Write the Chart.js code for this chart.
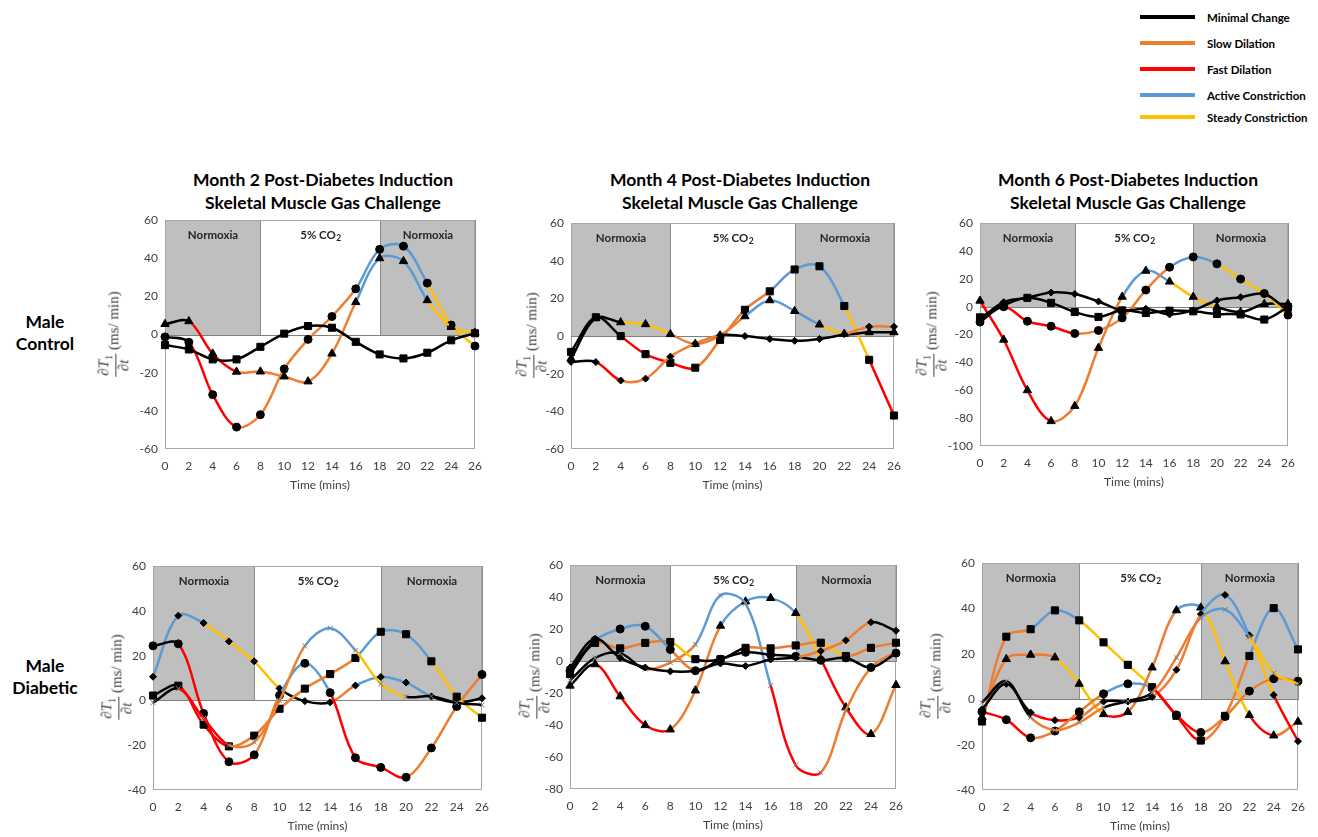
<!DOCTYPE html>
<html>
<head>
<meta charset="utf-8">
<script src="https://cdn.jsdelivr.net/npm/chart.js@4.4.1/dist/chart.umd.min.js"></script>
<style>
  body { margin: 0; background: #fff; width: 1318px; height: 837px; position: relative; overflow: hidden;
         font-family: Lato, "Open Sans", sans-serif; color: #000; }
  canvas { position: absolute; }
  .title { position: absolute; transform: translateX(-50%); text-align: center; font-weight: bold;
           font-size: 17.5px; line-height: 23px; white-space: nowrap; }
  .row { position: absolute; transform: translate(-50%, -50%); text-align: center; font-weight: bold;
         font-size: 17.5px; line-height: 22px; white-space: nowrap; }
  .xlab { position: absolute; transform: translate(-50%, -50%); font-size: 12px; color: #404040; white-space: nowrap; }
  .ylab { position: absolute; transform: translate(-50%, -50%) rotate(-90deg); font-family: "Liberation Serif", "DejaVu Serif", serif;
          font-size: 15px; color: #404040; white-space: nowrap; display: flex; align-items: center; }
  .frac { display: inline-flex; flex-direction: column; align-items: center; margin-right: 4px; line-height: 1.05; }
  .frac .num { border-bottom: 1px solid #404040; padding: 0 1px; }
  .leg { position: absolute; left: 1140px; height: 12px; display: flex; align-items: center; transform: translateY(-50%); }
  .leg .ln { width: 55px; height: 4px; margin-right: 12px; }
  .leg span { font-weight: bold; font-size: 11.5px; white-space: nowrap; }
</style>
</head>
<body>
<script>
// ---- data ----
const times = [0, 2, 4, 6, 8, 10, 12, 14, 16, 18, 20, 22, 24, 26];
const phaseStart = [0, 8, 18];
const phaseEnd = [8, 18, 26];
const phaseNames = ['Normoxia', '5% CO₂', 'Normoxia'];
const responseNames = ['Minimal Change', 'Slow Dilation', 'Fast Dilation', 'Active Constriction', 'Steady Constriction'];
const responseCodes = ['K', 'O', 'R', 'B', 'Y'];
const panelTitles = ['Month 2 Post-Diabetes Induction', 'Month 4 Post-Diabetes Induction', 'Month 6 Post-Diabetes Induction'];
const panelSubtitle = 'Skeletal Muscle Gas Challenge';
const rowNames = [['Male', 'Control'], ['Male', 'Diabetic']];
const yMin = [-60, -60, -100, -40, -80, -40];
const yMax = [60, 60, 60, 60, 60, 60];

// each series: values at each time + response type of each segment (K O R B Y)
// Month 2, male control
const m2cCircle = [-1.2, -4, -31.5, -48.5, -42, -18, -2.5, 9.5, 24, 44.7, 46.4, 27, 5, -6];
const m2cCircleType = 'KRROOOOOBBBYY';
const m2cTriangle = [5.5, 7, -10, -19.5, -19.4, -22, -24.6, -10, 17, 40, 38.5, 18, 4, 1];
const m2cTriangleType = 'KRROOOOOBBBYY';
const m2cSquare = [-5.5, -7.8, -13, -13, -6.4, 0.5, 4.5, 3.6, -3.8, -10.4, -12.5, -9.5, -3, 0.7];
const m2cSquareType = 'KKKKKKKKKKKKK';

// Month 4, male control
const m4cSquare = [-8.4, 10, 0, -9.6, -14.2, -16.8, -2, 14, 23.8, 35.4, 37.1, 16, -12.6, -42.2];
const m4cSquareType = 'KKRRROOOBBBYR';
const m4cTriangle = [-12, 9.6, 7.3, 6.3, 1, -4.2, 0.3, 10.5, 19, 13.3, 6.1, 1.2, 2, 2];
const m4cTriangleType = 'KKYYOOOBBBYKK';
const m4cDiamond = [-13.7, -13.8, -23.6, -22.6, -10.9, -4, 0.5, 0, -1.5, -2.5, -1.5, 1, 5, 5];
const m4cDiamondType = 'KROOOOKKKKKOO';

// Month 6, male control
const m6cCircle = [-11, 0, -10.4, -14, -19.2, -17, -8, 12, 28.4, 35.8, 30.8, 19.9, 9.5, -6];
const m6cCircleType = 'KRRROOOOBBYYY';
const m6cTriangle = [4.3, -23.7, -60, -82.2, -71.3, -29.6, 7.1, 25.8, 18, 7.1, -0.2, -3.8, 1.9, 2];
const m6cTriangleType = 'RRROOOBBYYKKK';
const m6cSquare = [-7.6, 1, 6.4, 2.8, -3.8, -7.3, -2.6, -4.5, -2.8, -3.3, -5.2, -5.5, -9.2, -0.2];
const m6cSquareType = 'KKKKKKKKKKKKK';
const m6cDiamond = [-9, 3.3, 6.4, 10.2, 9.2, 3.8, -2.6, -1.4, -5.5, -2.6, 4.5, 6.9, 9.2, -3];
const m6cDiamondType = 'KKKKKKKKKKKKK';

// Month 2, male diabetic
const m2dDiamond = [10.6, 37.9, 34.6, 26.4, 17.5, 5.4, -0.3, -0.8, 6.7, 10.5, 8, 1.8, -1, 1];
const m2dDiamondType = 'BBYYYKKOBBBKK';
const m2dCircle = [24.4, 25.3, -5.8, -27.4, -24.3, 2.3, 16.6, 3.5, -25.6, -29.9, -34.3, -21.2, -2.7, 11.6];
const m2dCircleType = 'KRRROBBRRROOO';
const m2dSquare = [2.2, 6.6, -10.8, -20.5, -15.7, -3.7, 5.3, 11.8, 19, 30.7, 29.6, 17.5, 1.7, -7.7];
const m2dSquareType = 'KRROOOOOBBBYY';
const m2dCross = [-1, 5.3, -8, -20, -18.6, 0, 24.4, 32.3, 22.4, 7.5, 1.7, 1.9, -1, -2];
const m2dCrossType = 'KRROOOBBYYKKK';

// Month 4, male diabetic
const m4dTriangle = [-15.4, -2, -22.1, -40.1, -42.8, -18.4, 22.1, 37.3, 39.4, 30, 1.2, -29, -45.7, -15];
const m4dTriangleType = 'KRRROOBBBYRRO';
const m4dCross = [-12, 2, 5, -5, -1, 10.4, 41.2, 36, -15.2, -65, -69.7, -30.8, -4, 6];
const m4dCrossType = 'KKKOOBBBRROOO';
const m4dSquare = [-8, 11.4, 8, 11.4, 12, 1.2, 1.2, 8.3, 8, 9.8, 11.5, 3.2, 8.3, 11.5];
const m4dSquareType = 'KOOOYKKOOOYOO';
const m4dCircle = [-6, 13, 20.1, 21.8, 7.3, -6, 1.1, 5.5, 4, 3, 0.5, 2, -4, 5];
const m4dCircleType = 'KBBBOKKKKKKKK';
const m4dDiamond = [-4, 14, 2, -4, -6.4, -6, -1.5, -3, 1, 2.2, 6.3, 13, 24.3, 19];
const m4dDiamondType = 'KKKKKKKKKOOOK';

// Month 6, male diabetic
const m6dSquare = [-9.8, 27.6, 30.9, 39.2, 34.8, 25.1, 15.2, 5.3, -7.3, -18.2, -7.3, 19.1, 40.2, 22];
const m6dSquareType = 'OOBBYYYRROOBB';
const m6dTriangle = [-8, 17.7, 19.6, 18.4, 6.8, -6.6, -5.6, 14, 39.2, 40.4, 16.7, -7, -16, -9.9];
const m6dTriangleType = 'OOOYYROOBYYRO';
const m6dDiamond = [-4.4, 6.8, -5.8, -9.2, -8, -1, -1, 1, 13, 37.5, 46, 28.2, 1.9, -18.5];
const m6dDiamondType = 'KKRROKKOOBBYR';
const m6dCircle = [-5.5, -9, -17, -14, -5.5, 2.4, 6.8, 5, -6.9, -14.6, -7.6, 3.6, 9.1, 8];
const m6dCircleType = 'RROOOBBRROOOO';
const m6dCross = [-1.5, 8, -8, -13.6, -10.2, -3.7, -0.8, 2.9, 18.4, 36, 39.6, 27.5, 11.6, 6.8];
const m6dCrossType = 'KKOOOKKOOBBYY';

// ---- styles & layout ----
const responseColors = { K: '#000000', O: '#ED7D31', R: '#FF0000', B: '#5B9BD5', Y: '#FFC000' };
const markers = {
  circle:   { pointStyle: 'circle',   pointRadius: 4,   pointBorderColor: '#000', pointBorderWidth: 1 },
  triangle: { pointStyle: 'triangle', pointRadius: 4.8, pointBorderColor: '#000', pointBorderWidth: 1 },
  square:   { pointStyle: 'rect',     pointRadius: 5,   pointBorderColor: '#000', pointBorderWidth: 1 },
  diamond:  { pointStyle: 'rectRot',  pointRadius: 3.5, pointBorderColor: '#000', pointBorderWidth: 1 },
  cross:    { pointStyle: 'crossRot', pointRadius: 3.5, pointBorderColor: '#7f7f7f', pointBorderWidth: 1 }
};

const panels = [
  { plot: { l: 165, t: 218, r: 475, b: 449 }, ylabX: 114, series: [
      [m2cSquare, m2cSquareType, 'square'], [m2cTriangle, m2cTriangleType, 'triangle'], [m2cCircle, m2cCircleType, 'circle']] },
  { plot: { l: 571, t: 221, r: 894, b: 449 }, ylabX: 532, series: [
      [m4cDiamond, m4cDiamondType, 'diamond'], [m4cTriangle, m4cTriangleType, 'triangle'], [m4cSquare, m4cSquareType, 'square']] },
  { plot: { l: 980, t: 221, r: 1288, b: 446 }, ylabX: 932, series: [
      [m6cSquare, m6cSquareType, 'square'], [m6cDiamond, m6cDiamondType, 'diamond'],
      [m6cCircle, m6cCircleType, 'circle'], [m6cTriangle, m6cTriangleType, 'triangle']] },
  { plot: { l: 153, t: 564, r: 482, b: 790 }, ylabX: 117, series: [
      [m2dCross, m2dCrossType, 'cross'], [m2dSquare, m2dSquareType, 'square'],
      [m2dCircle, m2dCircleType, 'circle'], [m2dDiamond, m2dDiamondType, 'diamond']] },
  { plot: { l: 570, t: 563, r: 896, b: 789 }, ylabX: 535, series: [
      [m4dDiamond, m4dDiamondType, 'diamond'], [m4dCircle, m4dCircleType, 'circle'], [m4dSquare, m4dSquareType, 'square'],
      [m4dCross, m4dCrossType, 'cross'], [m4dTriangle, m4dTriangleType, 'triangle']] },
  { plot: { l: 982, t: 561, r: 1298, b: 790 }, ylabX: 936, series: [
      [m6dCross, m6dCrossType, 'cross'], [m6dCircle, m6dCircleType, 'circle'], [m6dDiamond, m6dDiamondType, 'diamond'],
      [m6dTriangle, m6dTriangleType, 'triangle'], [m6dSquare, m6dSquareType, 'square']] }
];
const titleX = [323, 740, 1128];
const rowY = [333, 677];

const PAD_L = 60, PAD_T = 12, PAD_R = 20, PAD_B = 30;
const tickFont = { family: 'Lato, "Open Sans", sans-serif', size: 12 };
const bandFont = 'bold 11.5px Lato, "Open Sans", sans-serif';
const subFont = 'bold 8.5px Lato, "Open Sans", sans-serif';

// shaded phases, frame and zero line behind the curves
const phasePlugin = {
  id: 'phases',
  beforeDatasetsDraw(chart) {
    const { ctx, chartArea: a, scales: { x, y } } = chart;
    const top = Math.round(y.getPixelForValue(y.max)) + 0.5;
    const zero = Math.round(y.getPixelForValue(0)) + 0.5;
    ctx.save();
    ctx.lineWidth = 1;
    phaseStart.forEach((s, i) => {
      const x0 = Math.round(x.getPixelForValue(s)) + 0.5;
      const x1 = Math.round(x.getPixelForValue(phaseEnd[i])) + 0.5;
      if (phaseNames[i] === 'Normoxia') {
        ctx.fillStyle = '#bfbfbf';
        ctx.fillRect(x0, top, x1 - x0, zero - top);
        ctx.strokeStyle = '#8c8c8c';
        ctx.strokeRect(x0, top, x1 - x0, zero - top);
      }
      // label
      const cx = (x0 + x1) / 2, cy = top + 15;
      ctx.fillStyle = '#262626';
      ctx.textBaseline = 'middle';
      const parts = phaseNames[i].split('₂');
      if (parts.length > 1) {
        ctx.font = bandFont;
        const w1 = ctx.measureText(parts[0]).width;
        ctx.font = subFont;
        const w2 = ctx.measureText('2').width;
        const sx = cx - (w1 + w2) / 2;
        ctx.textAlign = 'left';
        ctx.font = bandFont;
        ctx.fillText(parts[0], sx, cy);
        ctx.font = subFont;
        ctx.fillText('2', sx + w1 + 0.5, cy + 3);
      } else {
        ctx.textAlign = 'center';
        ctx.font = bandFont;
        ctx.fillText(phaseNames[i], cx, cy);
      }
    });
    // frame
    ctx.strokeStyle = '#a6a6a6';
    ctx.strokeRect(Math.round(a.left) + 0.5, top, Math.round(a.width) - 1, Math.round(a.bottom) - top - 0.5);
    // zero axis
    ctx.strokeStyle = '#808080';
    ctx.beginPath();
    ctx.moveTo(a.left, zero);
    ctx.lineTo(a.right, zero);
    ctx.stroke();
    ctx.restore();
  }
};

function addDiv(cls, html, css) {
  const d = document.createElement('div');
  d.className = cls;
  d.innerHTML = html;
  Object.assign(d.style, css);
  document.body.appendChild(d);
  return d;
}

// legend
const legendY = [17, 43, 69, 95, 117];
responseNames.forEach((name, i) => {
  addDiv('leg', '<div class="ln" style="background:' + responseColors[responseCodes[i]] + '"></div><span>' + name + '</span>',
    { top: legendY[i] + 'px' });
});

// titles and row labels
panelTitles.forEach((t, i) => {
  addDiv('title', t + '<br>' + panelSubtitle, { left: titleX[i] + 'px', top: '168px' });
});
rowNames.forEach((r, i) => {
  addDiv('row', r.join('<br>'), { left: '45px', top: rowY[i] + 'px' });
});

panels.forEach((p, k) => {
  const w = p.plot.r - p.plot.l + PAD_L + PAD_R;
  const h = p.plot.b - p.plot.t + PAD_T + PAD_B;
  const canvas = document.createElement('canvas');
  canvas.width = w;
  canvas.height = h;
  canvas.style.left = (p.plot.l - PAD_L) + 'px';
  canvas.style.top = (p.plot.t - PAD_T) + 'px';
  canvas.style.width = w + 'px';
  canvas.style.height = h + 'px';
  document.body.appendChild(canvas);

  // axis titles
  addDiv('xlab', 'Time (mins)', { left: ((p.plot.l + p.plot.r) / 2) + 'px', top: (p.plot.b + 35) + 'px' });
  addDiv('ylab', '<span class="frac"><span class="num">∂<i>T</i><sub style="font-size:10px">1</sub></span><span>∂<i>t</i></span></span>(ms/ min)',
    { left: p.ylabX + 'px', top: ((p.plot.t + p.plot.b) / 2) + 'px' });

  const datasets = p.series.map(([values, types, marker]) => Object.assign({
    data: values.map((v, i) => ({ x: times[i], y: v })),
    borderColor: '#000',
    borderWidth: 2.5,
    pointBackgroundColor: '#000',
    tension: 0.35,
    clip: false,
    segment: { borderColor: ctx => responseColors[types[ctx.p0DataIndex]] }
  }, markers[marker]));

  new Chart(canvas, {
    type: 'line',
    data: { datasets },
    options: {
      responsive: false,
      animation: false,
      layout: { padding: { left: 0, top: PAD_T, right: PAD_R, bottom: 0 } },
      plugins: { legend: { display: false }, tooltip: { enabled: false } },
      scales: {
        x: {
          type: 'linear', min: 0, max: 26,
          grid: { display: false, drawTicks: false }, border: { display: false },
          ticks: { stepSize: 2, padding: 10, color: '#404040', font: tickFont, maxRotation: 0 },
          afterFit: s => { s.height = PAD_B; }
        },
        y: {
          min: yMin[k], max: yMax[k],
          grid: { display: false, drawTicks: false }, border: { display: false },
          ticks: { stepSize: 20, padding: 7, color: '#404040', font: tickFont },
          afterFit: s => { s.width = PAD_L; }
        }
      }
    },
    plugins: [phasePlugin]
  });
});
</script>
</body>
</html>
